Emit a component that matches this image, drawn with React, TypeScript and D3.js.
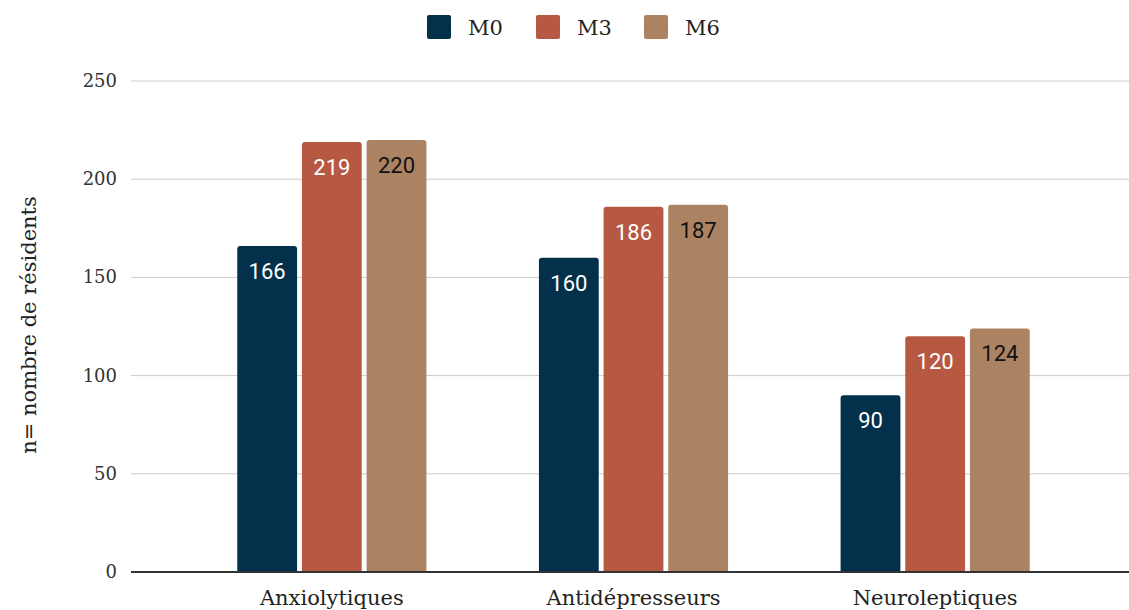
import React from "react";
import * as d3 from "d3";

const categories = ["Anxiolytiques", "Antidépresseurs", "Neuroleptiques"];
const seriesNames = ["M0", "M3", "M6"];
const m0Values = [166, 160, 90];
const m3Values = [219, 186, 120];
const m6Values = [220, 187, 124];
const yTicks = [0, 50, 100, 150, 200, 250];

const colors = ["#03304a", "#b75843", "#ab8363"];
const labelColors = ["#ffffff", "#ffffff", "#111111"];

const W = 1129;
const H = 610;
const serif = "'DejaVu Serif', serif";

export default function App() {
  const values = [m0Values, m3Values, m6Values];
  const y = d3.scaleLinear().domain([0, 250]).range([572, 81]);
  const x0 = d3
    .scaleBand<string>()
    .domain(categories)
    .range([181, 1086])
    .paddingInner(0.373)
    .paddingOuter(0.1865);
  const x1 = d3
    .scaleBand<string>()
    .domain(seriesNames)
    .range([0, x0.bandwidth()])
    .paddingInner(0.075);

  const barPath = (x: number, yTop: number, w: number, yBot: number, r: number) =>
    `M${x},${yBot}V${yTop + r}Q${x},${yTop} ${x + r},${yTop}H${x + w - r}Q${x + w},${yTop} ${x + w},${yTop + r}V${yBot}Z`;

  const legendX = [427, 536, 644];

  return (
    <svg
      width={W}
      height={H}
      style={{ position: "fixed", left: 0, top: 0, background: "#fff" }}
    >
      {yTicks.map((t) => (
        <line
          key={t}
          x1={131}
          x2={W}
          y1={y(t)}
          y2={y(t)}
          stroke={t === 0 ? "#333" : "#cccccc"}
          strokeWidth={t === 0 ? 2 : 1}
        />
      ))}
      {yTicks.map((t) => (
        <text
          key={"l" + t}
          x={117}
          y={y(t) + 6}
          textAnchor="end"
          fontFamily={serif}
          fontSize={18}
          fill="#333"
        >
          {t}
        </text>
      ))}
      <text
        transform={`translate(36,325) rotate(-90)`}
        textAnchor="middle"
        fontFamily={serif}
        fontSize={21}
        fill="#222"
      >
        n= nombre de résidents
      </text>

      {categories.map((c, ci) => (
        <g key={c} transform={`translate(${x0(c)},0)`}>
          {seriesNames.map((s, si) => {
            const v = values[si][ci];
            const bx = x1(s)!;
            const bw = x1.bandwidth();
            return (
              <g key={s}>
                <path d={barPath(bx, y(v), bw, y(0) - 1, 3)} fill={colors[si]} />
                <text
                  x={bx + bw / 2}
                  y={y(v) + 33}
                  textAnchor="middle"
                  fontFamily="Roboto, sans-serif"
                  fontSize={22}
                  fill={labelColors[si]}
                >
                  {v}
                </text>
              </g>
            );
          })}
          <text
            x={x0.bandwidth() / 2}
            y={605}
            textAnchor="middle"
            fontFamily={serif}
            fontSize={21}
            fill="#222"
          >
            {c}
          </text>
        </g>
      ))}

      {seriesNames.map((s, si) => (
        <g key={"lg" + s}>
          <rect x={legendX[si]} y={15} width={24} height={24} rx={2} fill={colors[si]} />
          <text
            x={legendX[si] + 41}
            y={35}
            fontFamily={serif}
            fontSize={21}
            fill="#222"
          >
            {s}
          </text>
        </g>
      ))}
    </svg>
  );
}
